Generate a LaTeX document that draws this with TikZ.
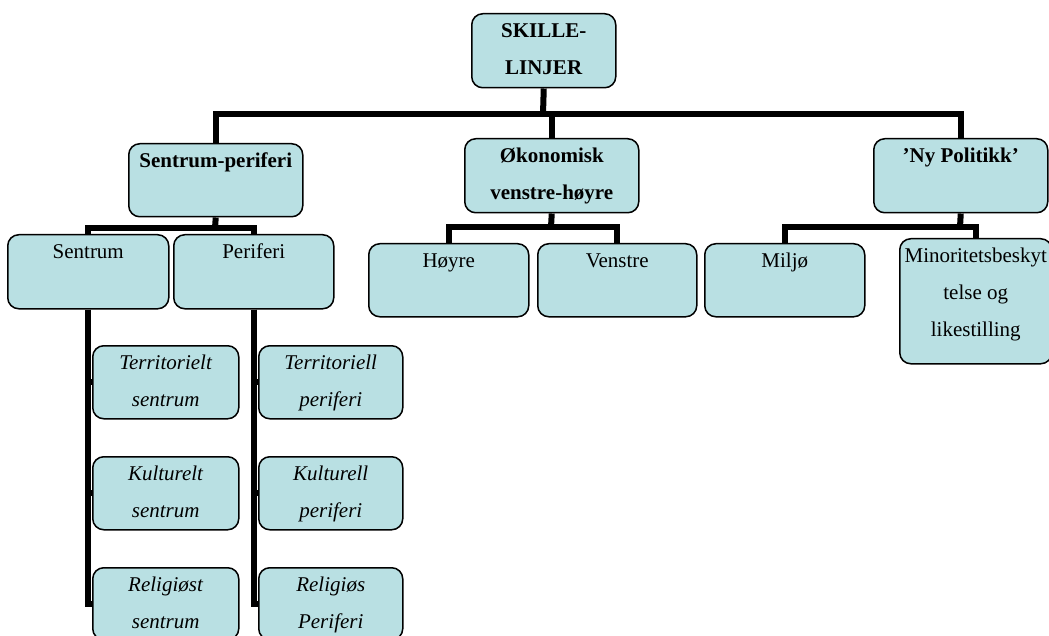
\documentclass[tikz,border=0pt]{standalone}
\usepackage{fontspec}
\setmainfont{Liberation Serif}
\definecolor{boxfill}{RGB}{185,224,227}
\newcommand\bx[7][]{\node[box,#1] (#2) at (#3,#4) {\parbox[t][#6pt][t]{#5pt}{\centering\rule{0pt}{24pt}#7}};}
\begin{document}
\begin{tikzpicture}[x=1pt,y=-1pt,
  box/.style={draw=black,line width=1.5pt,fill=boxfill,rounded corners=11pt,inner sep=0pt,anchor=north west,
    font=\fontsize{21}{37}\selectfont},
  conn/.style={draw=black,line width=6pt}]
\useasboundingbox (0,0) rectangle (1049,636);
% boxes
\bx{root}{471}{13}{144}{74}{\textbf{SKILLE-}\\\textbf{LINJER}}
\bx{sp}{128}{143}{174}{73}{\textbf{Sentrum-periferi}}
\bx{ok}{464}{138}{174}{74}{\textbf{Økonomisk}\\\textbf{venstre-høyre}}
\bx{ny}{873}{138}{174}{74}{\textbf{’Ny Politikk’}}
\bx{sen}{7}{234}{161}{74}{Sentrum}
\bx{per}{173}{234}{160}{74}{Periferi}
\bx{hoy}{368}{243}{160}{73}{Høyre}
\bx{ven}{537}{243}{159}{73}{Venstre}
\bx{mil}{704}{243}{160}{73}{Miljø}
\bx{min}{899}{238}{152}{125}{\makebox[0pt]{Minoritetsbeskyt}\\telse og\\likestilling}
\bx{ts}{92}{345}{146}{73}{\textit{Territorielt}\\\textit{sentrum}}
\bx{ks}{92}{456}{146}{73}{\textit{Kulturelt}\\\textit{sentrum}}
\bx{rs}{92}{567}{146}{72}{\textit{Religiøst}\\\textit{sentrum}}
\bx{tp}{258}{345}{144}{73}{\textit{Territoriell}\\\textit{periferi}}
\bx{kp}{258}{456}{144}{73}{\textit{Kulturell}\\\textit{periferi}}
\bx{rp}{258}{567}{144}{72}{\textit{Religiøs}\\\textit{Periferi}}
% junctions
\coordinate (rb) at (543,114);
\coordinate (spb) at (215,228);
\coordinate (okb) at (551,227);
\coordinate (nyb) at (960,227);
% connectors
\draw[conn] (root.south) -- (rb);
\draw[conn] (sp.north) |- (rb) -| (ny.north);
\draw[conn] (rb) -| (ok.north);
\draw[conn] (sp.south) -- (spb);
\draw[conn] (sen.north) |- (spb) -| (per.north);
\draw[conn] (ok.south) -- (okb);
\draw[conn] (hoy.north) |- (okb) -| (ven.north);
\draw[conn] (ny.south) -- (nyb);
\draw[conn] (mil.north) |- (nyb);
\draw[conn] (nyb) -| (min.north);
\draw[conn] (sen.south) |- (ts.west);
\draw[conn] (sen.south) |- (ks.west);
\draw[conn] (sen.south) |- (rs.west);
\draw[conn] (per.south) |- (tp.west);
\draw[conn] (per.south) |- (kp.west);
\draw[conn] (per.south) |- (rp.west);
\end{tikzpicture}
\end{document}
